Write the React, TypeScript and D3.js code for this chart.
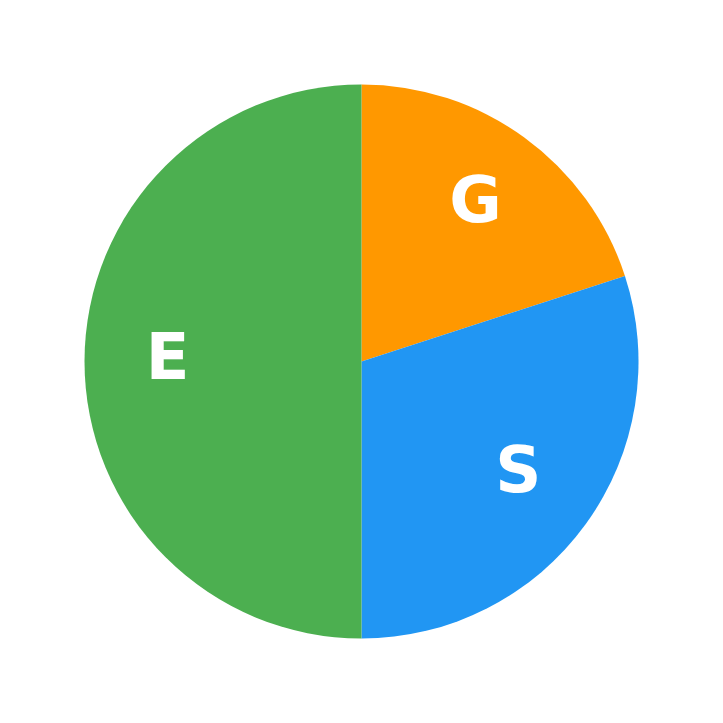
import * as d3 from "d3";
import React, { useEffect, useRef } from "react";

const labels = ["G", "S", "E"];
const values = [20, 30, 50];
const colors = ["#FF9800", "#2196F3", "#4CAF50"];

export default function App() {
  const ref = useRef<SVGSVGElement>(null);
  const width = 723;
  const height = 723;

  useEffect(() => {
    const radius = 277;
    const svg = d3.select(ref.current);
    svg.selectAll("*").remove();

    const g = svg
      .append("g")
      .attr("transform", `translate(${width / 2}, ${height / 2})`);

    const data = labels.map((name, i) => ({ name, value: values[i] }));

    const pie = d3
      .pie<{ name: string; value: number }>()
      .sort(null)
      .value((d) => d.value);
    const arc = d3.arc<any>().innerRadius(0).outerRadius(radius);
    const arcLabel = d3.arc<any>().innerRadius(radius * 0.7).outerRadius(radius * 0.7);
    const color = d3.scaleOrdinal<string>().domain(labels).range(colors);

    const arcs = pie(data);

    g.selectAll("path")
      .data(arcs)
      .join("path")
      .attr("fill", (d) => color(d.data.name))
      .attr("d", arc);

    g.append("g")
      .style("font-family", "DejaVu Sans")
      .style("font-weight", "bold")
      .style("font-size", "64px")
      .attr("text-anchor", "middle")
      .attr("dominant-baseline", "central")
      .selectAll("text")
      .data(arcs)
      .join("text")
      .attr("fill", "#ffffff")
      .attr("dy", -5)
      .attr("transform", (d) => {
        const [x, y] = arcLabel.centroid(d);
        return `translate(${x},${y})`;
      })
      .text((d) => d.data.name);
  }, []);

  return (
    <svg
      ref={ref}
      width={width}
      height={height}
      style={{ position: "absolute", left: 0, top: 0, background: "#fff" }}
    />
  );
}
